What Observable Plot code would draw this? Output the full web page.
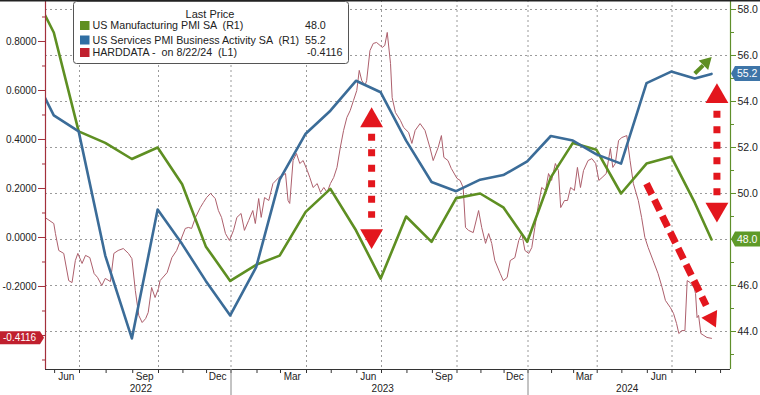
<!DOCTYPE html>
<html><head><meta charset="utf-8">
<script src="https://cdn.jsdelivr.net/npm/d3@7"></script>
<script src="https://cdn.jsdelivr.net/npm/@observablehq/plot@0.6"></script>
<style>
html,body{margin:0;padding:0;background:#fff;}
#chart{width:760px;height:395px;overflow:hidden;}
</style></head><body><div id="chart"></div>
<script>
// ---------- DATA ----------
const pmiDates = ["2022-04-30","2022-05-31","2022-06-30","2022-07-31","2022-08-31","2022-09-30","2022-10-31","2022-11-30","2022-12-31",
  "2023-01-31","2023-02-28","2023-03-31","2023-04-30","2023-05-31","2023-06-30","2023-07-31","2023-08-31","2023-09-30","2023-10-31","2023-11-30","2023-12-31",
  "2024-01-31","2024-02-29","2024-03-31","2024-04-30","2024-05-31","2024-06-30","2024-07-31","2024-08-22"];
const manufacturingPMI = [59.2,57.0,52.7,52.2,51.5,52.0,50.4,47.7,46.2,46.9,47.3,49.2,50.2,48.4,46.3,49.0,47.9,49.8,50.0,49.4,47.9,50.7,52.2,51.9,50.0,51.3,51.6,49.6,48.0];
const servicesPMI = [55.6,53.4,52.7,47.3,43.7,49.3,47.8,46.2,44.7,46.8,50.6,52.6,53.6,54.9,54.4,52.3,50.5,50.1,50.6,50.8,51.4,52.5,52.3,51.7,51.3,54.8,55.3,55.0,55.2];

const hardDates = ["2022-05-22","2022-05-31","2022-06-02","2022-06-06","2022-06-12","2022-06-18","2022-06-22","2022-06-26","2022-06-29",
"2022-07-04","2022-07-08","2022-07-13","2022-07-18","2022-07-22","2022-07-27","2022-07-31","2022-08-06","2022-08-10","2022-08-15","2022-08-21","2022-08-27","2022-08-31",
"2022-09-04","2022-09-08","2022-09-12","2022-09-16","2022-09-19","2022-09-23","2022-09-27","2022-10-01","2022-10-03","2022-10-12","2022-10-18","2022-10-24","2022-10-28",
"2022-11-04","2022-11-08","2022-11-12","2022-11-17","2022-11-23","2022-11-27","2022-12-01","2022-12-06","2022-12-12","2022-12-16","2022-12-20","2022-12-25","2022-12-30",
"2023-01-04","2023-01-08","2023-01-13","2023-01-17","2023-01-22","2023-01-27","2023-01-30","2023-02-03","2023-02-06","2023-02-10","2023-02-15","2023-02-20","2023-02-27",
"2023-03-07","2023-03-10","2023-03-12","2023-03-16","2023-03-20","2023-03-24","2023-03-28","2023-04-02","2023-04-05","2023-04-09","2023-04-14","2023-04-18","2023-04-22","2023-04-26","2023-04-30",
"2023-05-04","2023-05-08","2023-05-12","2023-05-16","2023-05-20","2023-05-24","2023-05-28","2023-06-01","2023-06-04","2023-06-07","2023-06-11","2023-06-13","2023-06-17","2023-06-21","2023-06-25",
"2023-07-02","2023-07-05","2023-07-08","2023-07-12","2023-07-14","2023-07-18","2023-07-24","2023-07-28","2023-08-03","2023-08-07","2023-08-11","2023-08-17","2023-08-23","2023-08-29",
"2023-09-02","2023-09-08","2023-09-12","2023-09-15","2023-09-20","2023-09-24","2023-10-01","2023-10-05","2023-10-09","2023-10-12","2023-10-16","2023-10-22","2023-10-29",
"2023-11-02","2023-11-07","2023-11-11","2023-11-15","2023-11-19","2023-11-26","2023-11-30","2023-12-05","2023-12-09","2023-12-15","2023-12-20","2023-12-24","2023-12-28",
"2024-01-02","2024-01-06","2024-01-10","2024-01-15","2024-01-19","2024-01-24","2024-01-28","2024-02-01","2024-02-06","2024-02-10","2024-02-13","2024-02-18","2024-02-22","2024-02-26",
"2024-03-02","2024-03-06","2024-03-10","2024-03-14","2024-03-20","2024-03-25","2024-03-30","2024-04-03","2024-04-07","2024-04-12","2024-04-17","2024-04-20","2024-04-23","2024-04-27",
"2024-05-01","2024-05-07","2024-05-11","2024-05-15","2024-05-21","2024-05-25","2024-05-29","2024-06-02","2024-06-08","2024-06-14","2024-06-19","2024-06-23","2024-06-29",
"2024-07-03","2024-07-07","2024-07-10","2024-07-14","2024-07-18","2024-07-21","2024-07-25","2024-07-30","2024-08-01","2024-08-03","2024-08-05","2024-08-08","2024-08-12","2024-08-16","2024-08-22"];
const hardValues = [0.078,0.057,0.016,-0.053,-0.065,-0.176,-0.184,-0.094,-0.065,
-0.106,-0.073,-0.082,-0.147,-0.163,-0.196,-0.167,-0.180,-0.065,-0.053,-0.045,-0.065,-0.086,
-0.216,-0.318,-0.347,-0.331,-0.306,-0.204,-0.245,-0.208,-0.176,-0.143,-0.082,-0.053,-0.020,
0.037,0.041,0.037,0.082,0.122,0.143,0.163,0.180,0.159,0.110,0.082,0.016,-0.012,
0.029,0.082,0.098,0.029,0.069,0.110,0.057,0.159,0.082,0.163,0.151,0.220,0.245,
0.261,0.151,0.139,0.314,0.343,0.302,0.314,0.273,0.245,0.204,0.220,0.184,0.204,0.184,0.220,
0.245,0.286,0.367,0.437,0.490,0.518,0.559,0.600,0.682,0.641,0.620,0.641,0.763,0.792,0.796,
0.776,0.784,0.837,0.710,0.571,0.510,0.478,0.449,0.429,0.384,0.437,0.465,0.437,0.367,
0.314,0.367,0.416,0.327,0.314,0.282,0.241,0.233,0.204,0.041,0.029,0.020,0.110,
0.041,-0.024,0.016,-0.024,-0.094,-0.147,-0.176,-0.163,-0.094,-0.082,-0.012,0.016,-0.053,
-0.065,-0.041,0.041,0.139,0.204,0.192,0.261,0.233,0.302,0.273,0.122,0.151,0.151,0.204,
0.192,0.286,0.204,0.273,0.314,0.322,0.302,0.233,0.245,0.261,0.363,0.286,0.302,0.396,
0.408,0.416,0.314,0.220,0.151,0.082,0.000,-0.041,-0.094,-0.147,-0.204,-0.257,-0.286,
-0.310,-0.351,-0.392,-0.380,-0.380,-0.176,-0.184,-0.204,-0.229,-0.327,-0.318,-0.392,-0.400,-0.408,-0.4116];

const seriesNames = ["US Manufacturing PMI SA  (R1)", "US Services PMI Business Activity SA  (R1)", "HARDDATA -  on 8/22/24  (L1)"];
const lastValues = ["48.0", "55.2", "-0.4116"];
const lastManufacturing = 48.0, lastServices = 55.2, lastHard = -0.4116;

const rightMajor = [44,46,48,50,52,54,56,58];
const rightMinor = [43,45,47,49,51,53,55,57];
const rightLabels = [44,46,50,52,54,56,58];
const leftMajor = [-0.4,-0.2,0,0.2,0.4,0.6,0.8];
const leftMinor = [-0.5,-0.3,-0.1,0.1,0.3,0.5,0.7,0.9];
const leftLabels = [-0.2,0,0.2,0.4,0.6,0.8];

const quarterStarts = ["2022-07-01","2022-10-01","2023-01-01","2023-04-01","2023-07-01","2023-10-01","2024-01-01","2024-04-01","2024-07-01"];
const monthLabels = [["2022-06-15","Jun"],["2022-09-15","Sep"],["2022-12-15","Dec"],["2023-03-15","Mar"],["2023-06-15","Jun"],["2023-09-15","Sep"],["2023-12-15","Dec"],["2024-03-15","Mar"],["2024-06-15","Jun"]];
const years = ["2022","2023","2024"];

// annotations (in date / right-axis units)
const vArrows = [
  {date: "2023-06-19", headTop: 53.17, dashTop: 52.6, dashBottom: 48.95, headBottom: 48.16},
  {date: "2024-08-28", headTop: 54.22, dashTop: 53.6, dashBottom: 49.9, headBottom: 49.31}
];
const downArrow = {from: ["2024-05-31", 50.43], to: ["2024-08-15", 45.13], head: ["2024-08-22", 44.57]};
const upArrow = {from: ["2024-07-31", 55.22], to: ["2024-08-11", 55.57], head: ["2024-08-15", 55.70]};

// ---------- SCALES ----------
const P = d3.isoParse;
const xBreaks = ["2022-05-21","2022-07-01","2022-10-01","2023-01-01","2023-04-01","2023-07-01","2023-10-01","2024-01-01","2024-04-01","2024-07-01","2024-08-22","2024-09-12"].map(P);
const xBreakPx = [45,79,158,230.5,306,381,456.5,527.5,596.7,671.5,711,730];
const leftDomain = [-0.5388, 0.9673];
const rightDomain = [42.348, 58.391];
const toR = d3.scaleLinear(leftDomain, rightDomain);

const GREEN = "#5e8f22", BLUE = "#3b6c98", HARD = "#ad5f6c", RED = "#e3161d";
const LAXIS = "#a3303c", RAXIS = "#5f8f2b", GRID = "#9a9a9a";

const pmi = pmiDates.map((d, i) => ({date: P(d), m: manufacturingPMI[i], s: servicesPMI[i]}));
const hard = hardDates.map((d, i) => ({date: P(d), v: toR(hardValues[i])}));

const xStart = xBreaks[0], xEnd = xBreaks[xBreaks.length - 1];
const monthStarts = d3.utcMonth.range(P("2022-06-01"), P("2024-09-02"));
const yearStarts = [P("2023-01-01"), P("2024-01-01")];
const yearMid = years.map(y => {
  const a = Math.max(+xStart, +P(y + "-01-01")), b = Math.min(+xEnd, +P((+y + 1) + "-01-01"));
  return {year: y, date: new Date((a + b) / 2)};
});

const chart = Plot.plot({
  width: 760, height: 395,
  marginLeft: 45, marginRight: 30, marginTop: 0, marginBottom: 26,
  style: {fontFamily: '"Liberation Sans", Arial, sans-serif', fontSize: "10px", background: "#fff", color: "#222"},
  x: {type: "utc", domain: xBreaks, range: xBreakPx, axis: null},
  y: {domain: rightDomain, axis: null},
  marks: [
    Plot.ruleY(rightMajor, {stroke: GRID, strokeDasharray: "2,3"}),
    Plot.ruleX(quarterStarts.map(P), {stroke: GRID, strokeDasharray: "2,3"}),
    Plot.line(hard, {x: "date", y: "v", stroke: HARD, strokeWidth: 1}),
    Plot.line(pmi, {x: "date", y: "m", stroke: GREEN, strokeWidth: 2.6, clip: true}),
    Plot.line(pmi, {x: "date", y: "s", stroke: BLUE, strokeWidth: 2.6, clip: true}),
    // axis lines
    Plot.ruleY([rightDomain[0]], {stroke: "#333", strokeWidth: 1.2}),
    Plot.ruleX([xStart], {stroke: LAXIS, strokeWidth: 1.2}),
    Plot.ruleX([xEnd], {stroke: RAXIS, strokeWidth: 1.2}),
    // right axis ticks/labels
    Plot.axisY(rightMajor, {anchor: "right", tickSize: 5, tickFormat: () => "", color: RAXIS, label: null}),
    Plot.axisY(rightMinor, {anchor: "right", tickSize: 3, tickFormat: () => "", color: RAXIS, label: null}),
    Plot.text(rightLabels, {y: d => d, text: d => d.toFixed(1), frameAnchor: "right", textAnchor: "start", dx: 7, fontSize: 10.5, fill: "#222"}),
    // left axis ticks/labels
    Plot.axisY(leftMajor.map(toR), {anchor: "left", tickSize: 7, tickFormat: () => "", color: LAXIS, label: null}),
    Plot.axisY(leftMinor.map(toR), {anchor: "left", tickSize: 3, tickFormat: () => "", color: LAXIS, label: null}),
    Plot.text(leftLabels, {y: d => toR(d), text: d => d.toFixed(4), frameAnchor: "left", textAnchor: "end", dx: -9, fontSize: 10, fill: "#222"}),
    // x axis
    Plot.axisX(monthStarts, {anchor: "bottom", tickSize: 4, tickFormat: () => "", color: "#333", label: null}),
    Plot.axisX(yearStarts, {anchor: "bottom", tickSize: 26, tickFormat: () => "", color: "#888", label: null}),
    Plot.text(monthLabels, {x: d => P(d[0]), text: d => d[1], frameAnchor: "bottom", lineAnchor: "top", dy: 3, fontSize: 10, fill: "#222"}),
    Plot.text(yearMid, {x: "date", text: "year", frameAnchor: "bottom", lineAnchor: "top", dy: 15, fontSize: 10, fill: "#222"}),
    // annotations
    Plot.link(vArrows, {x1: d => P(d.date), x2: d => P(d.date), y1: "dashTop", y2: "dashBottom", stroke: RED, strokeWidth: 7, strokeDasharray: "7,8.5"}),
    Plot.dot(vArrows, {x: d => P(d.date), y: "headTop", symbol: "triangle", r: 8.5, fill: RED, stroke: "none"}),
    Plot.dot(vArrows, {x: d => P(d.date), y: "headBottom", symbol: "triangle", r: 8.5, fill: RED, stroke: "none", rotate: 180}),
    Plot.link([downArrow], {x1: d => P(d.from[0]), y1: d => d.from[1], x2: d => P(d.to[0]), y2: d => d.to[1], stroke: RED, strokeWidth: 7, strokeDasharray: "12,6"}),
    Plot.dot([downArrow], {x: d => P(d.head[0]), y: d => d.head[1], symbol: "triangle", r: 6.5, fill: RED, stroke: "none", rotate: 154}),
    Plot.link([upArrow], {x1: d => P(d.from[0]), y1: d => d.from[1], x2: d => P(d.to[0]), y2: d => d.to[1], stroke: GREEN, strokeWidth: 4}),
    Plot.dot([upArrow], {x: d => P(d.head[0]), y: d => d.head[1], symbol: "triangle", r: 5, fill: GREEN, stroke: "none", rotate: 45})
  ]
});
document.getElementById("chart").append(chart);

// ---------- tags and legend ----------
const ys = chart.scale("y");
const svg = d3.select(chart);
svg.append("line").attr("x1", 0).attr("x2", 760).attr("y1", 0.75).attr("y2", 0.75).attr("stroke", "#222").attr("stroke-width", 1.5);

function rightTag(v, color, label) {
  const y = ys.apply(v);
  svg.append("path").attr("d", `M731,${y} L735,${y - 7.5} L760,${y - 7.5} L760,${y + 7.5} L735,${y + 7.5} Z`).attr("fill", color);
  svg.append("text").attr("x", 737).attr("y", y).attr("dy", "0.35em").attr("text-anchor", "start").attr("fill", "#fff").attr("font-size", 10.5).text(label);
}
rightTag(lastServices, "#3e75a8", lastValues[1]);
rightTag(lastManufacturing, "#5f9a28", lastValues[0]);
{
  const y = ys.apply(toR(lastHard));
  svg.append("path").attr("d", `M0,${y - 6.5} L40,${y - 6.5} L44,${y} L40,${y + 6.5} L0,${y + 6.5} Z`).attr("fill", "#c0202e");
  svg.append("text").attr("x", 3).attr("y", y).attr("dy", "0.35em").attr("text-anchor", "start").attr("fill", "#fff").attr("font-size", 10).text(lastValues[2]);
}

const lg = svg.append("g").attr("font-family", '"Liberation Sans", Arial, sans-serif').attr("fill", "#222").attr("text-anchor", "start");
lg.append("rect").attr("x", 73.5).attr("y", 1.5).attr("width", 275).attr("height", 62).attr("rx", 3).attr("fill", "#fff").attr("stroke", "#555");
lg.append("text").attr("x", 210).attr("y", 18).attr("text-anchor", "middle").attr("font-size", 11).text("Last Price");
const swatches = ["#5f8f1f", "#2f6ea3", "#c0202e"];
const rowY = [25.5, 40, 52.5];
seriesNames.forEach((name, i) => {
  lg.append("rect").attr("x", 80).attr("y", rowY[i] - 4.5).attr("width", 9.5).attr("height", 9).attr("fill", swatches[i]);
  lg.append("text").attr("x", 92.5).attr("y", rowY[i]).attr("dy", "0.36em").attr("text-anchor", "start").attr("font-size", 10.7).style("white-space", "pre").text(name);
  lg.append("text").attr("x", i < 2 ? 305 : 307).attr("y", rowY[i]).attr("dy", "0.36em").attr("text-anchor", "start").attr("font-size", 10.7).text(lastValues[i]);
});
</script>
</body></html>
